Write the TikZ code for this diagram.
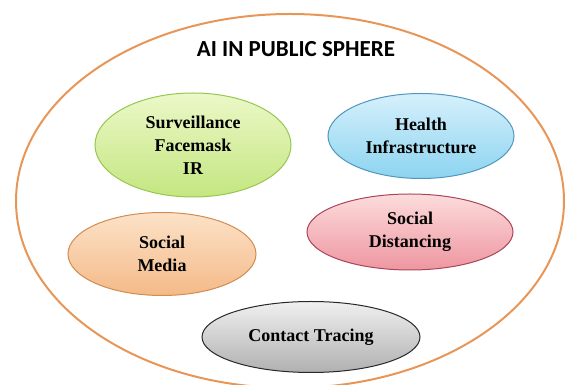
\documentclass[tikz,border=0pt]{standalone}
\usepackage{fontspec}
\setmainfont{Liberation Serif}
\newfontfamily\titlefont{Carlito}
\usepackage{tikz}
\usetikzlibrary{shapes.geometric}
\definecolor{sphereline}{RGB}{232,150,88}
\definecolor{greenline}{RGB}{150,200,80}
\definecolor{greentop}{RGB}{236,248,200}
\definecolor{greenbot}{RGB}{196,230,128}
\definecolor{blueline}{RGB}{80,150,190}
\definecolor{bluetop}{RGB}{214,240,252}
\definecolor{bluebot}{RGB}{140,212,240}
\definecolor{orangeline}{RGB}{210,140,80}
\definecolor{orangetop}{RGB}{252,226,200}
\definecolor{orangebot}{RGB}{244,186,136}
\definecolor{pinkline}{RGB}{170,70,90}
\definecolor{pinktop}{RGB}{252,220,220}
\definecolor{pinkbot}{RGB}{238,150,160}
\definecolor{grayline}{RGB}{40,40,40}
\definecolor{graytop}{RGB}{240,240,240}
\definecolor{graybot}{RGB}{176,176,176}
\newcommand*\bubblefont{\fontsize{18}{23}\selectfont\bfseries}
\tikzset{
    bubble/.style    = {draw,ellipse,line width=1pt,align=center,
                       inner sep=0pt,outer sep=0pt,font=\bubblefont},
    greenbubble/.style  = {bubble,draw=greenline,top color=greentop,bottom color=greenbot},
    bluebubble/.style   = {bubble,draw=blueline,top color=bluetop,bottom color=bluebot},
    orangebubble/.style = {bubble,draw=orangeline,top color=orangetop,bottom color=orangebot},
    pinkbubble/.style   = {bubble,draw=pinkline,top color=pinktop,bottom color=pinkbot},
    graybubble/.style   = {bubble,draw=grayline,top color=graytop,bottom color=graybot},
  }
\begin{document}
\begin{tikzpicture}[x=1pt,y=1pt]
    \useasboundingbox (0,0) rectangle (566,385);
    % The big sphere round everything
    \node[draw=sphereline,line width=2pt,ellipse,minimum width=548pt,minimum height=374pt,
          inner sep=0pt] (sphere) at (290,184) {};
    \node[font=\titlefont\fontsize{23}{27}\selectfont\bfseries] (title) at (296,336) {AI IN PUBLIC SPHERE};

    % The five fields
    \node[greenbubble,minimum width=196pt,minimum height=104pt] (surv) at (193,240)
        {Surveillance\\Facemask\\IR};
    \node[bluebubble,minimum width=186pt,minimum height=85pt] (health) at (421,249)
        {Health\\Infrastructure};
    \node[orangebubble,minimum width=188pt,minimum height=83pt] (media) at (162,131)
        {Social\\Media};
    \node[pinkbubble,minimum width=206pt,minimum height=76pt] (distance) at (410,153)
        {Social\\Distancing};
    \node[graybubble,minimum width=218pt,minimum height=71pt] (tracing) at (311,48)
        {Contact Tracing};
    \end{tikzpicture}
\end{document}
